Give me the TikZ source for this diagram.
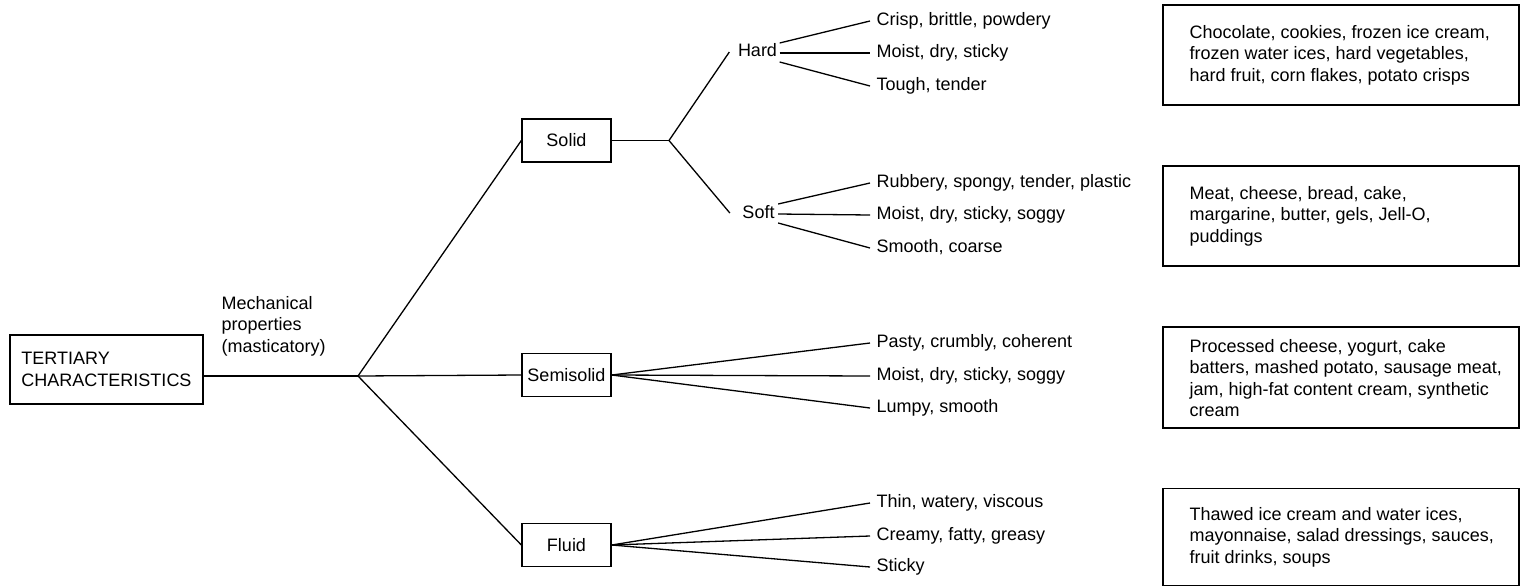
\documentclass[tikz,border=0pt]{standalone}
\usepackage{fontspec}
\setmainfont{Liberation Sans}
\usetikzlibrary{calc}
\begin{document}
\begin{tikzpicture}[x=1pt,y=-1pt,line width=1.3pt,
  every node/.style={font=\fontsize{18}{21.5}\selectfont},
  catbox/.style={draw,minimum width=89pt,minimum height=43pt,inner sep=0pt},
  leaf/.style={anchor=west,inner xsep=6pt,inner ysep=0pt,text height=13pt,text depth=4pt},
  sub/.style={inner xsep=1pt,inner ysep=0pt,text height=13pt,text depth=4pt},
  exbox/.style={draw,minimum width=356pt,minimum height=100pt,inner sep=0pt},
  extext/.style={anchor=west,align=left,inner sep=0pt}]
\useasboundingbox (0,0) rectangle (1521,587);

% root
\node[draw,minimum width=193pt,minimum height=69pt,align=left,inner sep=0pt] (tert) at (106.5,369.5) {TERTIARY\\CHARACTERISTICS};
\node[anchor=west,align=left,inner sep=0pt] (mech) at (221,326) {Mechanical\\properties\\(masticatory)};
\coordinate (hub) at (358,376);
\draw (tert.east |- hub) -- (hub);

% categories
\node[catbox] (solid) at (566.5,140.5) {Solid};
\node[catbox] (semi) at (566.5,375) {Semisolid};
\node[catbox] (fluid) at (566.5,545) {Fluid};
\draw (hub) -- (solid.west);
\draw (hub) -- (semi.west);
\draw (hub) -- (fluid.west);

% solid sub
\coordinate (subhub) at (669,140.5);
\draw (solid.east) -- (subhub);
\node[sub] (hard) at (757.5,52) {Hard};
\node[sub] (soft) at (758.5,214) {Soft};
\draw (subhub) -- ($(hard.west)+(-7,0)$);
\draw (subhub) -- ($(soft.west)+(-11,-1)$);

% leaves
\node[leaf] (h1) at (870,21) {Crisp, brittle, powdery};
\node[leaf] (h2) at (870,53) {Moist, dry, sticky};
\node[leaf] (h3) at (870,86) {Tough, tender};
\node[leaf] (s1) at (870,183) {Rubbery, spongy, tender, plastic};
\node[leaf] (s2) at (870,215) {Moist, dry, sticky, soggy};
\node[leaf] (s3) at (870,248) {Smooth, coarse};
\node[leaf] (m1) at (870,343) {Pasty, crumbly, coherent};
\node[leaf] (m2) at (870,376) {Moist, dry, sticky, soggy};
\node[leaf] (m3) at (870,408) {Lumpy, smooth};
\node[leaf] (f1) at (870,503) {Thin, watery, viscous};
\node[leaf] (f2) at (870,536) {Creamy, fatty, greasy};
\node[leaf] (f3) at (870,567) {Sticky};

\draw ($(hard.east)+(1,-9)$) -- (h1.west);
\draw ($(hard.east)+(1,1)$) -- (h2.west);
\draw ($(hard.east)+(1,10)$) -- (h3.west);
\draw ($(soft.east)+(2,-10)$) -- (s1.west);
\draw ($(soft.east)+(2,0)$) -- (s2.west);
\draw ($(soft.east)+(2,9)$) -- (s3.west);
\draw (semi.east) -- (m1.west);
\draw (semi.east) -- (m2.west);
\draw (semi.east) -- (m3.west);
\draw (fluid.east) -- (f1.west);
\draw (fluid.east) -- (f2.west);
\draw (fluid.east) -- (f3.west);

% example boxes
\node[exbox] (e1) at (1341,55) {};
\node[extext] (t1) at (1189,55) {Chocolate, cookies, frozen ice cream,\\frozen water ices, hard vegetables,\\hard fruit, corn flakes, potato crisps};
\node[exbox] (e2) at (1341,216) {};
\node[extext] (t2) at (1189,216) {Meat, cheese, bread, cake,\\margarine, butter, gels, Jell-O,\\puddings};
\node[exbox,minimum height=101pt] (e3) at (1341,377.5) {};
\node[extext] (t3) at (1189,378) {Processed cheese, yogurt, cake\\batters, mashed potato, sausage meat,\\jam, high-fat content cream, synthetic\\cream};
\node[exbox,minimum height=97pt] (e4) at (1341,537) {};
\node[extext] (t4) at (1189,537) {Thawed ice cream and water ices,\\mayonnaise, salad dressings, sauces,\\fruit drinks, soups};
\end{tikzpicture}
\end{document}
